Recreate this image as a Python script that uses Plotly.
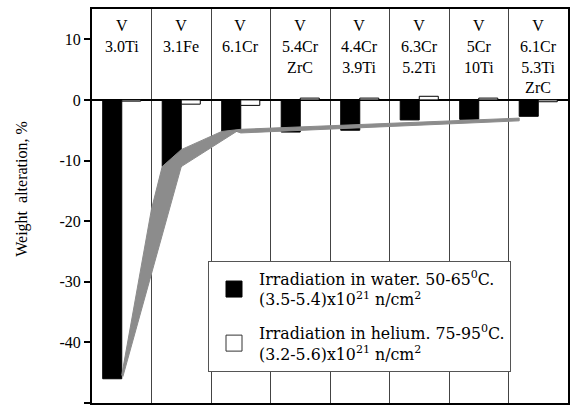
import numpy as np
import plotly.graph_objects as go

categories = ["V<br>3.0Ti", "V<br>3.1Fe", "V<br>6.1Cr", "V<br>5.4Cr<br>ZrC",
              "V<br>4.4Cr<br>3.9Ti", "V<br>6.3Cr<br>5.2Ti", "V<br>5Cr<br>10Ti",
              "V<br>6.1Cr<br>5.3Ti<br>ZrC"]
water = [-46.0, -11.0, -5.2, -5.3, -5.0, -3.3, -3.2, -2.7]
helium = [-0.2, -0.7, -0.9, 0.3, 0.3, 0.6, 0.3, -0.3]
yticks = [10, 0, -10, -20, -30, -40, -50]
yticklabels = ["10", "0", "-10", "-20", "-30", "-40", "-50"]

name_water = "Irradiation in water. 50-65<sup>0</sup>C.<br>(3.5-5.4)x10<sup>21</sup> n/cm<sup>2</sup>"
name_helium = "Irradiation in helium. 75-95<sup>0</sup>C.<br>(3.2-5.6)x10<sup>21</sup> n/cm<sup>2</sup>"

SERIF = "Liberation Serif"
x = np.arange(len(categories))
w = np.array(water)

# trend band connecting the bottoms of the water bars
bw = 0.32
upper = [
    (x[0] + 0.0, w[0] + 0.6),
    (x[0] + 0.5, w[1] + 0.2 * (w[0] - w[1])),
    (x[1] - bw, w[1]),
    (x[1] + 0.0, w[1] + 2.8),
    (x[2] - bw, w[2]),
    (x[2] + 0.0, w[2] + 0.35),
    (x[7] - bw, w[7] - 0.3),
]
lower = [
    (x[7] - bw, w[7] - 0.75),
    (x[2] + 0.0, w[2] - 0.25),
    (x[2] - 0.07, w[2]),
    (x[1] + 0.0, w[1]),
    (x[0] + 0.02, w[0] + 0.4),
]
poly = upper + lower + [upper[0]]
px_, py_ = zip(*poly)

fig = go.Figure()
fig.add_trace(go.Scatter(x=list(px_), y=list(py_), mode="lines", fill="toself",
                         fillcolor="#8c8c8c", line=dict(color="#8c8c8c", width=1),
                         showlegend=False, hoverinfo="skip"))
fig.add_trace(go.Bar(x=x, y=water, name=name_water, marker=dict(color="black",
                     line=dict(color="black", width=1)), showlegend=False))
fig.add_trace(go.Bar(x=x, y=helium, name=name_helium, marker=dict(color="white",
                     line=dict(color="black", width=1)), showlegend=False))
# legend entries with larger square swatches
fig.add_trace(go.Scatter(x=[None], y=[None], mode="markers", name=name_water,
                         marker=dict(symbol="square", size=16, color="black",
                                     line=dict(color="black", width=1)),
                         legendgroup="a"))
fig.add_trace(go.Scatter(x=[None], y=[None], mode="markers", name=name_helium,
                         marker=dict(symbol="square", size=16, color="white",
                                     line=dict(color="#333", width=1)),
                         legendgroup="b"))

for i, c in enumerate(categories):
    fig.add_annotation(x=i, y=0.985, xref="x", yref="paper", text=c, showarrow=False,
                       yanchor="top", xanchor="center",
                       font=dict(family=SERIF, size=16, color="black"))

fig.add_annotation(x=-0.170, y=0.544, xref="paper", yref="paper",
                   text="Weight  alteration, %", textangle=-90, showarrow=False,
                   font=dict(family=SERIF, size=16, color="black"))

fig.update_layout(
    width=571, height=406,
    margin=dict(l=92, r=3, t=9, b=3, autoexpand=False),
    paper_bgcolor="white", plot_bgcolor="white",
    barmode="group", bargap=0.36, bargroupgap=0,
    showlegend=True,
    legend=dict(x=0.2437, y=0.3604, xanchor="left", yanchor="top",
                bgcolor="white", bordercolor="#555", borderwidth=1,
                font=dict(family="DejaVu Serif", size=15.8, color="black"),
                tracegroupgap=10, itemwidth=40, itemsizing="trace"),
    xaxis=dict(range=[-0.5, 7.5], tick0=0.5, dtick=1, showticklabels=False,
               showgrid=True, gridcolor="#444", gridwidth=1, ticks="",
               showline=True, linecolor="black", linewidth=2, mirror=True,
               zeroline=False, automargin=False),
    yaxis=dict(range=[-50, 15], tickvals=yticks, ticktext=yticklabels,
               ticks="outside", ticklen=6, automargin=False,
               tickwidth=2, tickcolor="black", showgrid=False,
               showline=True, linecolor="black", linewidth=2, mirror=True,
               zeroline=True, zerolinecolor="black", zerolinewidth=2,
               tickfont=dict(family=SERIF, size=16, color="black")),
)

fig.write_html("out.html", config={"displayModeBar": False},
               post_script="document.body.style.margin='0';document.body.style.padding='0';")
